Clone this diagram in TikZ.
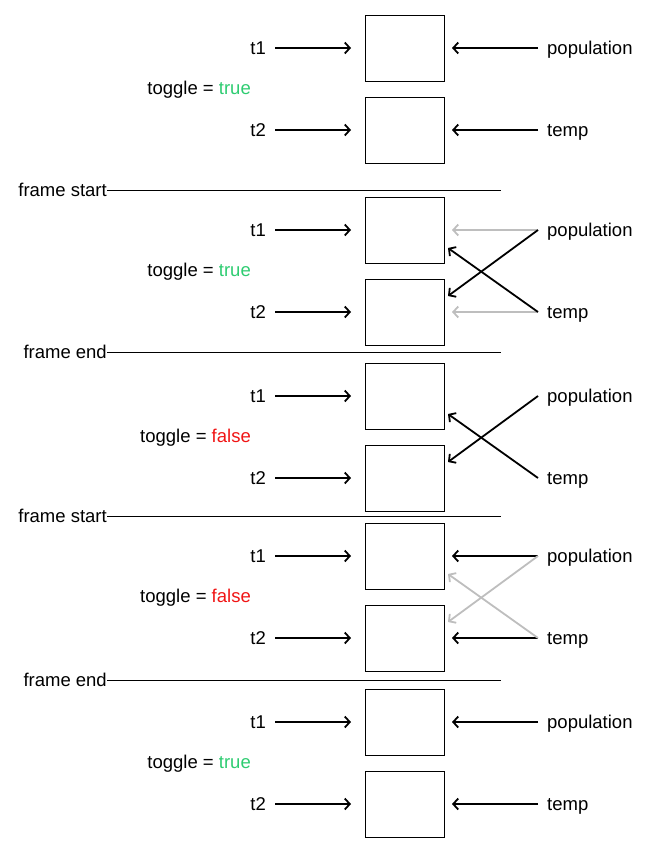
\documentclass[tikz,border=0pt]{standalone}
\usepackage{fontspec}
\setmainfont{Liberation Sans}
\usetikzlibrary{arrows.meta}
\definecolor{tgreen}{RGB}{46,204,113}
\definecolor{tred}{RGB}{240,20,20}
\definecolor{faint}{RGB}{190,190,190}
\tikzset{
  x=1pt,y=-1pt,
  regbox/.style={draw,line width=1pt,minimum width=79pt,minimum height=66pt,inner sep=0pt,outer sep=0pt},
  lbl/.style={font=\fontsize{18.5}{22}\selectfont,inner sep=0pt,text height=12pt,text depth=0pt},
  arr/.style={line width=1.8pt,-{Straight Barb[length=5pt,width=11pt,line width=1.8pt]}},
  inarr/.style={arr,shorten <=9pt,shorten >=14pt},
  rarr/.style={arr,shorten >=8pt},
  frameline/.style={line width=1pt},
}
\begin{document}
\begin{tikzpicture}
\useasboundingbox (0,0) rectangle (658,862);
% sections: top, toggle text, straight colour, cross colour
\foreach \i/\top/\tog/\sc/\cc in {1/15/{toggle = \textcolor{tgreen}{true}}/black/none,
                                   2/197/{toggle = \textcolor{tgreen}{true}}/faint/black,
                                   3/363/{toggle = \textcolor{tred}{false}}/none/black,
                                   4/523/{toggle = \textcolor{tred}{false}}/black/faint,
                                   5/689/{toggle = \textcolor{tgreen}{true}}/black/none}{
  \pgfmathsetmacro{\ya}{\top+33}
  \pgfmathsetmacro{\yb}{\top+115}
  \pgfmathsetmacro{\yt}{\top+73}
  \node[regbox] (ba\i) at (404.5,\ya) {};
  \node[regbox] (bb\i) at (404.5,\yb) {};
  \node[lbl,anchor=east] (ta\i) at (266,\ya) {t1};
  \node[lbl,anchor=east] (tb\i) at (266,\yb) {t2};
  \node[lbl,anchor=west] (pa\i) at (547,\ya) {population};
  \node[lbl,anchor=west] (pb\i) at (547,\yb) {temp};
  \node[lbl,anchor=east] (tg\i) at (251,\yt) {\tog};
  \coordinate (sa\i) at ([xshift=-9pt]pa\i.west);
  \coordinate (sb\i) at ([xshift=-9pt]pb\i.west);
  \draw[inarr] (ta\i.east) -- (ba\i.west);
  \draw[inarr] (tb\i.east) -- (bb\i.west);
  \ifx\sc\none\else
    \draw[rarr,draw=\sc] (sa\i) -- (ba\i.east);
    \draw[rarr,draw=\sc] (sb\i) -- (bb\i.east);
  \fi
  \ifx\cc\none\else
    \coordinate (ca\i) at ([xshift=4pt,yshift=16pt]bb\i.east);
    \coordinate (cb\i) at ([xshift=4pt,yshift=-18pt]ba\i.east);
    \draw[arr,draw=\cc] (sa\i) -- (ca\i);
    \draw[arr,draw=\cc] (sb\i) -- (cb\i);
  \fi
}
% frame lines
\node[lbl,anchor=east] (fs1) at (107,190) {frame start};
\node[lbl,anchor=east] (fe1) at (107,352) {frame end};
\node[lbl,anchor=east] (fs2) at (107,516) {frame start};
\node[lbl,anchor=east] (fe2) at (107,680) {frame end};
\coordinate (fs1r) at (501,190);
\coordinate (fe1r) at (501,352);
\coordinate (fs2r) at (501,516);
\coordinate (fe2r) at (501,680);
\draw[frameline] (fs1.east) -- (fs1r);
\draw[frameline] (fe1.east) -- (fe1r);
\draw[frameline] (fs2.east) -- (fs2r);
\draw[frameline] (fe2.east) -- (fe2r);
\end{tikzpicture}
\end{document}
